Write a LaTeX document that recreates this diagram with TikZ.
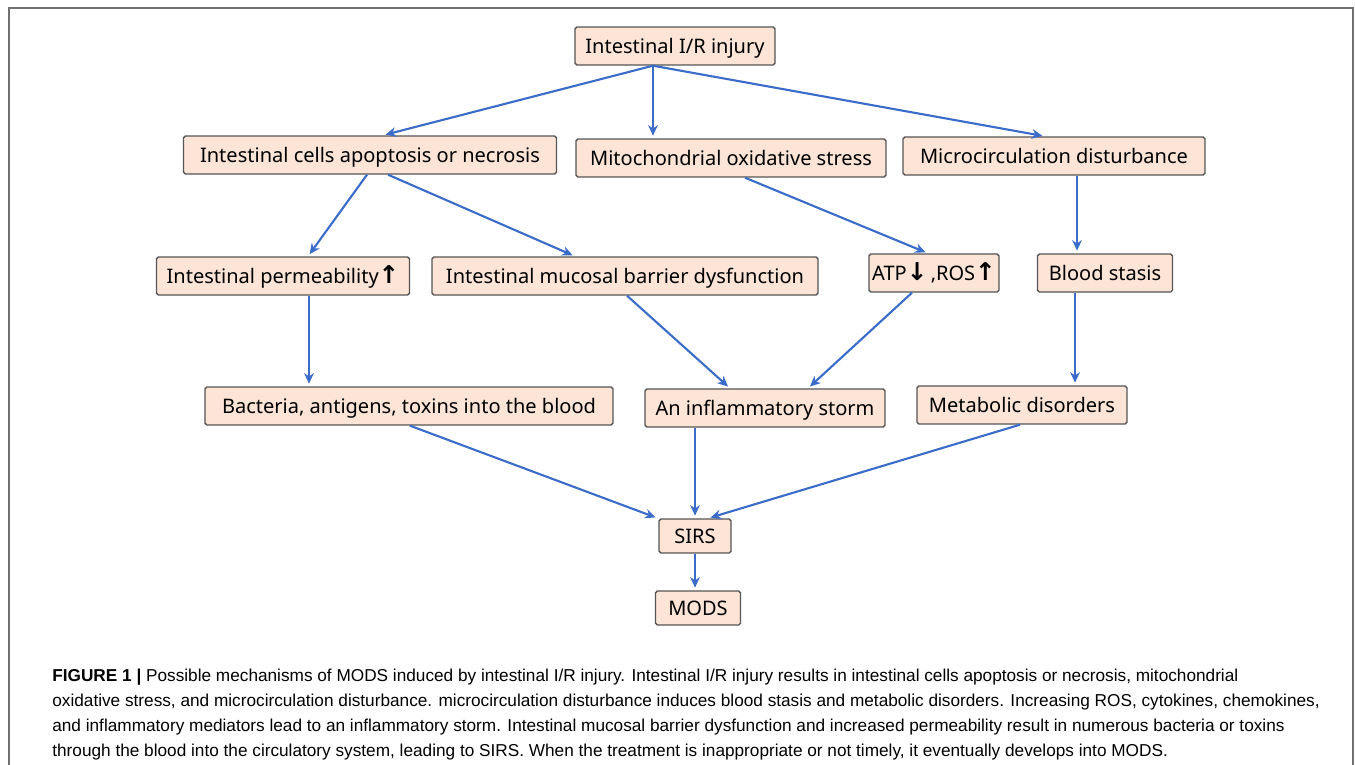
\documentclass[tikz,border=0pt]{standalone}
\usepackage{fontspec}
\usetikzlibrary{arrows.meta,calc}
\newfontfamily\boxfont{Noto Sans}
\newfontfamily\capfont{Liberation Sans}
\newfontfamily\arrowfont{DejaVu Sans}
\newcommand{\uparr}{{\arrowfont\bfseries\fontsize{14}{14}\selectfont ↑}}
\newcommand{\downarr}{{\arrowfont\bfseries\fontsize{14}{14}\selectfont ↓}}
\definecolor{boxfill}{HTML}{FCE4D6}
\definecolor{boxline}{HTML}{555555}
\definecolor{flowblue}{HTML}{3B6CC9}
\definecolor{framegray}{HTML}{707070}

\tikzset{
  stage/.style={draw=boxline,fill=boxfill,line width=0.8pt,rounded corners=1pt,
    minimum height=0.76cm,inner sep=0pt,text height=11pt,text depth=2pt,
    font=\boxfont\fontsize{11.4}{13}\selectfont},
  flow/.style={-{Stealth[length=6pt,width=5.5pt]},draw=flowblue,line width=1.2pt,shorten >=1.5pt}
}

\begin{document}
\begin{tikzpicture}[x=0.02cm,y=-0.02cm]
\useasboundingbox (0,0) rectangle (1355,764);

% Draw outer frame
\draw[framegray,line width=1pt] (9,770) -- (9,8) -- (1353,8) -- (1353,770);

% Draw stages
\node[stage,minimum width=4.0cm] (injury) at (675,46) {Intestinal I/R injury};
\node[stage,minimum width=7.46cm] (apop) at (370,155) {Intestinal cells apoptosis or necrosis};
\node[stage,minimum width=6.2cm] (mito) at (731,158) {Mitochondrial oxidative stress};
\node[stage,minimum width=6.04cm] (micro) at (1054,156) {Microcirculation disturbance};
\node[stage,minimum width=5.06cm] (perm) at (283,276) {Intestinal permeability\uparr};
\node[stage,minimum width=7.72cm] (mucosal) at (625,276) {Intestinal mucosal barrier dysfunction};
\node[stage,minimum width=2.6cm] (atp) at (934,273) {ATP\downarr\,,ROS\uparr};
\node[stage,minimum width=2.7cm] (stasis) at (1105,273) {Blood stasis};
\node[stage,minimum width=8.16cm] (bact) at (409,406) {Bacteria, antigens, toxins into the blood};
\node[stage,minimum width=4.8cm] (storm) at (765,408) {An inflammatory storm};
\node[stage,minimum width=4.2cm] (metab) at (1022,405) {Metabolic disorders};
\node[stage,minimum width=1.44cm,minimum height=0.68cm] (sirs) at (695,536) {SIRS};
\node[stage,minimum width=1.7cm,minimum height=0.68cm] (mods) at (698,608) {MODS};

% Draw arrows
\draw[flow] ($(injury.south)+(-22,0)$) -- ($(apop.north)+(13,0)$);
\draw[flow] ($(injury.south)+(-22,0)$) -- ($(mito.north)+(-78,0)$);
\draw[flow] ($(injury.south)+(-22,0)$) -- ($(micro.north)+(-9,0)$);
\draw[flow] ($(apop.south)+(-3,0)$) -- ($(perm.north)+(25,0)$);
\draw[flow] ($(apop.south)+(18,0)$) -- ($(mucosal.north)+(-50,0)$);
\draw[flow] ($(mito.south)+(14,0)$) -- ($(atp.north)+(-6,0)$);
\draw[flow] ($(micro.south)+(23,0)$) -- ($(stasis.north)+(-28,0)$);
\draw[flow] ($(perm.south)+(26,0)$) -- ($(bact.north)+(-100,0)$);
\draw[flow] ($(mucosal.south)+(2,0)$) -- ($(storm.north)+(-35,0)$);
\draw[flow] ($(atp.south)+(-22,0)$) -- ($(storm.north)+(43,0)$);
\draw[flow] ($(stasis.south)+(-30,0)$) -- ($(metab.north)+(53,0)$);
\draw[flow] ($(bact.south)+(1,0)$) -- ($(sirs.north)+(-37,0)$);
\draw[flow] ($(storm.south)+(-70,0)$) -- (sirs.north);
\draw[flow] ($(metab.south)+(-2,0)$) -- ($(sirs.north)+(13,0)$);
\draw[flow] (sirs.south) -- ($(mods.north)+(-3,0)$);

% Draw caption
\node[anchor=north west,align=left,inner sep=0pt,
  font=\capfont\fontsize{9.8}{14.2}\selectfont] (caption) at (52,669)
  {{\bfseries FIGURE 1 |} Possible mechanisms of MODS induced by intestinal I/R injury. Intestinal I/R injury results in intestinal cells apoptosis or necrosis, mitochondrial\\
  oxidative stress, and microcirculation disturbance. microcirculation disturbance induces blood stasis and metabolic disorders. Increasing ROS, cytokines, chemokines,\\
  and inflammatory mediators lead to an inflammatory storm. Intestinal mucosal barrier dysfunction and increased permeability result in numerous bacteria or toxins\\
  through the blood into the circulatory system, leading to SIRS. When the treatment is inappropriate or not timely, it eventually develops into MODS.};

\end{tikzpicture}
\end{document}
